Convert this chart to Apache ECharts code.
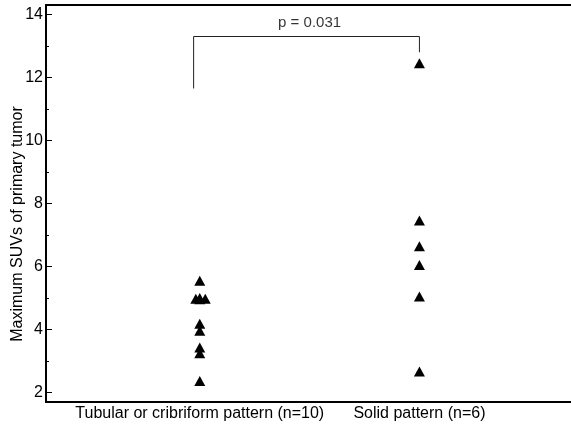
<!DOCTYPE html>
<html>
<head>
<meta charset="utf-8">
<script src="https://cdn.jsdelivr.net/npm/echarts@6/dist/echarts.min.js"></script>
<style>html,body{margin:0;padding:0;background:#fff;}#c{width:571px;height:430px;}</style>
</head>
<body>
<div id="c"></div>
<script>
var categories = ['Tubular or cribriform pattern (n=10)', 'Solid pattern (n=6)'];
var categoryPos = [1, 2];
var tubularX = [1.0, 0.982, 1.0, 1.025, 1.0, 1.0, 1.0, 1.0, 1.0, 1.0];
var tubularValues = [5.55, 4.98, 5.0, 4.98, 4.96, 4.18, 3.96, 3.43, 3.25, 2.37];
var solidX = [2, 2, 2, 2, 2, 2];
var solidValues = [12.45, 7.46, 6.64, 6.05, 5.05, 2.67];
var bracketX = [0.972, 0.972, 2.0, 2.0];
var bracketY = [11.65, 13.3, 13.3, 12.8];
var pLabel = 'p = 0.031';
var pLabelPos = [1.5, 13.72];
var yTicks = [2, 4, 6, 8, 10, 12, 14];
var yMinorTicks = [3, 5, 7, 9, 11, 13];

function zip(a, b) { return a.map(function (v, i) { return [v, b[i]]; }); }

var chart = echarts.init(document.getElementById('c'), null, {renderer: 'canvas'});
var font = 'Liberation Sans, Arial, sans-serif';
var X_MIN = 0.3, X_MAX = 2.69, Y_MIN = 1.7, Y_MAX = 14.3;
chart.setOption({
  animation: false,
  backgroundColor: '#fff',
  grid: {left: 46, right: 0, top: 5, bottom: 28},
  xAxis: [{
    type: 'value', min: X_MIN, max: X_MAX,
    axisLine: {lineStyle: {color: '#000', width: 2}},
    axisTick: {show: false},
    splitLine: {show: false},
    axisLabel: {
      color: '#000', fontSize: 16, fontFamily: font, margin: 4,
      customValues: categoryPos,
      formatter: function (v) {
        var i = categoryPos.indexOf(v);
        return i >= 0 ? categories[i] : '';
      }
    }
  }, {
    type: 'value', min: X_MIN, max: X_MAX, position: 'top',
    axisLine: {show: true, lineStyle: {color: '#000', width: 2}},
    axisTick: {show: false}, axisLabel: {show: false}, splitLine: {show: false}
  }],
  yAxis: [{
    type: 'value', min: Y_MIN, max: Y_MAX,
    axisLine: {show: true, lineStyle: {color: '#000', width: 2}},
    axisTick: {show: true, inside: true, length: 6, customValues: yTicks, lineStyle: {color: '#000', width: 1}},
    splitLine: {show: false},
    axisLabel: {
      color: '#000', fontSize: 16, fontFamily: font, margin: 3,
      customValues: yTicks
    }
  }, {
    type: 'value', min: Y_MIN, max: Y_MAX, position: 'left', offset: 0,
    axisLine: {show: false},
    axisTick: {show: true, inside: true, length: 3, customValues: yMinorTicks, lineStyle: {color: '#000', width: 1}},
    axisLabel: {show: false},
    splitLine: {show: false}
  }],
  graphic: [{
    type: 'text', x: 18, y: 224, rotation: Math.PI / 2,
    style: {text: 'Maximum SUVs of primary tumor', fontSize: 16, fontFamily: font, fill: '#000',
      textAlign: 'center', textVerticalAlign: 'middle'}
  }],
  series: [{
    type: 'scatter', data: zip(tubularX, tubularValues),
    symbol: 'triangle', symbolSize: [11, 10], itemStyle: {color: '#000', opacity: 1}
  }, {
    type: 'scatter', data: zip(solidX, solidValues),
    symbol: 'triangle', symbolSize: [11, 10], itemStyle: {color: '#000', opacity: 1}
  }, {
    type: 'line', data: zip(bracketX, bracketY), symbol: 'none',
    lineStyle: {color: '#222', width: 1}
  }, {
    type: 'scatter', data: [pLabelPos], symbolSize: 0,
    label: {show: true, position: 'inside', formatter: pLabel, color: '#000', fontSize: 15, fontFamily: font}
  }]
});
</script>
</body>
</html>
